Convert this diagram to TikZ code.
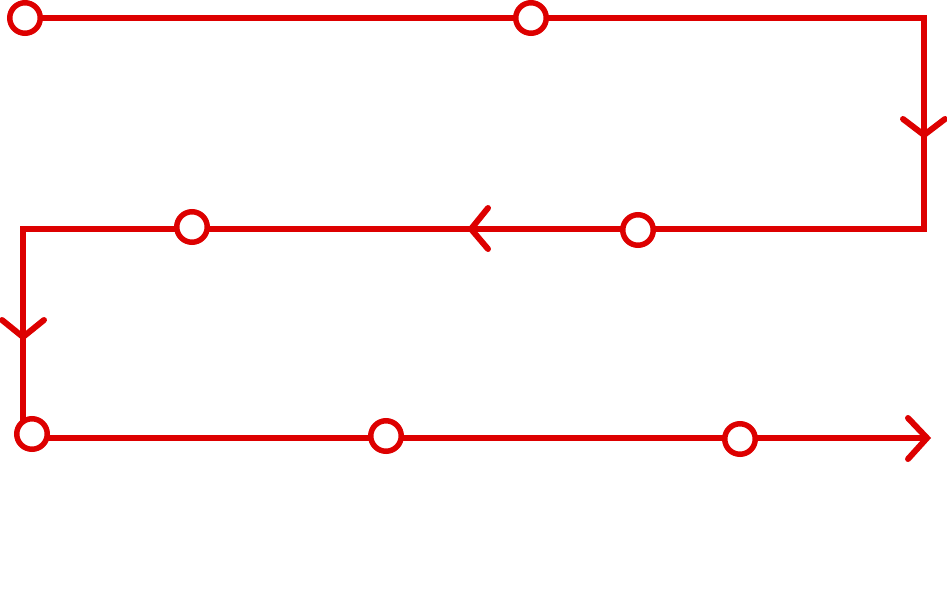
\documentclass[tikz,border=0pt]{standalone}
\usepackage{tikz}
\definecolor{trackred}{RGB}{221,0,0}
\tikzset{
  track/.style={draw=trackred, line width=6pt, line join=miter},
  barb/.style={draw=trackred, line width=6pt, line cap=round, line join=miter},
  stop/.style={circle, draw=trackred, fill=white, line width=5.5pt, minimum size=30.5pt, inner sep=0pt},
}
\begin{document}
\begin{tikzpicture}[x=1pt,y=-1pt]
\useasboundingbox (0,0) rectangle (947,590);
% corners and end
\coordinate (k1) at (924,18);
\coordinate (k2) at (924,229);
\coordinate (k3) at (23,229);
\coordinate (k4) at (23,438);
\coordinate (e) at (927,438);
% stops (positions only, drawn later)
\coordinate (p1) at (25,18);
\coordinate (p5) at (32,434);
% the track
\draw[track] (p1) -- (k1) -- (k2) -- (k3) -- (k4) -- (e);
% arrowheads along the track
\draw[barb] (903,119) -- (924,135) -- (945,119);
\draw[barb] (488,208) -- (471,229) -- (488,249);
\draw[barb] (2,320) -- (23,337) -- (44,320);
\draw[barb] (908,418) -- (e) -- (908,459);
% stops
\node[stop] (s1) at (p1) {};
\node[stop] (s2) at (531,18) {};
\node[stop] (s3) at (638,230) {};
\node[stop] (s4) at (192,227) {};
\node[stop] (s5) at (p5) {};
\node[stop] (s6) at (386,436) {};
\node[stop] (s7) at (740,439) {};
\end{tikzpicture}
\end{document}
